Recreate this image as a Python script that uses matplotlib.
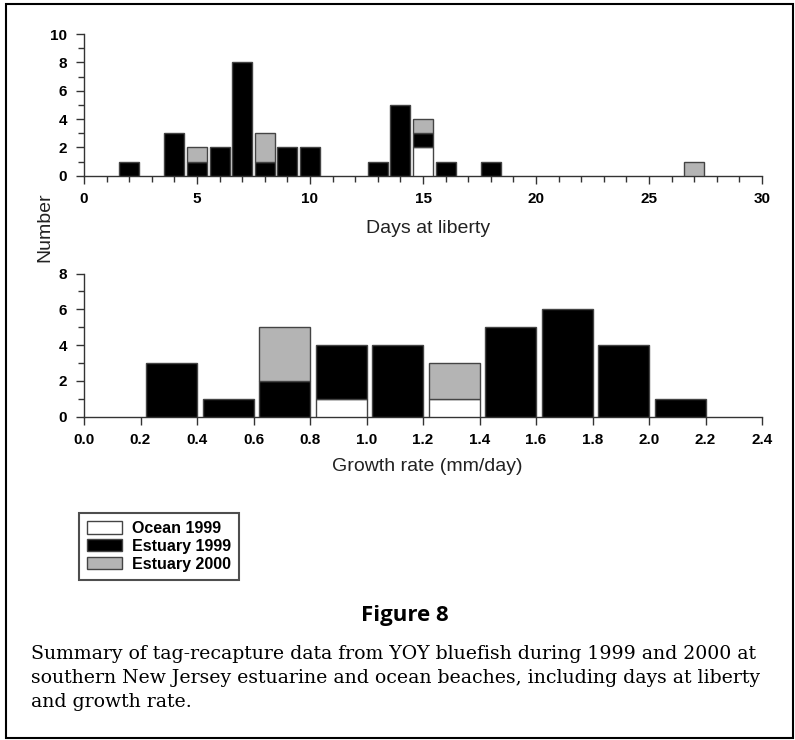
import numpy as np
import matplotlib
matplotlib.use("Agg")
import matplotlib.pyplot as plt
from matplotlib.patches import Patch, Rectangle

# days at liberty histogram (stacked counts)
days = [2, 4, 5, 6, 7, 8, 9, 10, 13, 14, 15, 16, 18, 27]
day_ocean99 = [0, 0, 0, 0, 0, 0, 0, 0, 0, 0, 2, 0, 0, 0]
day_est99 = [1, 3, 1, 2, 8, 1, 2, 2, 1, 5, 1, 1, 1, 0]
day_est00 = [0, 0, 1, 0, 0, 2, 0, 0, 0, 0, 1, 0, 0, 1]

# growth rate histogram, bins 0.2 wide (right edges)
growth_right = [0.4, 0.6, 0.8, 1.0, 1.2, 1.4, 1.6, 1.8, 2.0, 2.2]
gr_ocean99 = [0, 0, 0, 1, 0, 1, 0, 0, 0, 0]
gr_est99 = [3, 1, 2, 3, 4, 0, 5, 6, 4, 1]
gr_est00 = [0, 0, 3, 0, 0, 2, 0, 0, 0, 0]

series_names = ["Ocean 1999", "Estuary 1999", "Estuary 2000"]
colors = ["white", "black", "#b4b4b4"]
EDGE = "#444444"

plt.rcParams['font.family'] = ['Liberation Sans', 'DejaVu Sans']

fig = plt.figure(figsize=(7.95, 7.4), dpi=100)


def stacked(ax, x, stacks, width, align):
    base = np.zeros(len(x))
    x = np.array(x, dtype=float)
    for vals, col in zip(stacks, colors):
        vals = np.array(vals, dtype=float)
        m = vals > 0
        ax.bar(x[m], vals[m], width=width, bottom=base[m], align=align,
               color=col, edgecolor=EDGE, linewidth=1.0, zorder=3)
        base += vals


def style(ax):
    for s in ["top", "right"]:
        ax.spines[s].set_visible(False)
    for s in ["left", "bottom"]:
        ax.spines[s].set_color("#333333")
        ax.spines[s].set_linewidth(1.0)
    ax.tick_params(which="major", direction="out", length=6, width=1,
                   color="#333333", labelsize=11, pad=6)
    ax.tick_params(which="minor", direction="out", length=4, width=1,
                   color="#333333")
    for lab in ax.get_xticklabels() + ax.get_yticklabels():
        lab.set_fontweight("bold")


# top panel
ax1 = fig.add_axes([84 / 795, 1 - 175.7 / 740, 678 / 795, 141.7 / 740])
stacked(ax1, days, [day_ocean99, day_est99, day_est00], 0.88, "center")
ax1.set_xlim(0, 30)
ax1.set_ylim(0, 10)
ax1.set_xticks(np.arange(0, 31, 5))
ax1.set_xticks(np.arange(0, 31, 1), minor=True)
ax1.set_yticks(np.arange(0, 11, 2))
ax1.set_yticks(np.arange(1, 10, 2), minor=True)
style(ax1)
ax1.set_xlabel("Days at liberty", fontsize=14, color="#222222")
ax1.xaxis.set_label_coords(0.507, -0.315)

# bottom panel
ax2 = fig.add_axes([84 / 795, 1 - 416.7 / 740, 678 / 795, 143.1 / 740])
stacked(ax2, growth_right, [gr_ocean99, gr_est99, gr_est00], -0.18, "edge")
ax2.set_xlim(0, 2.4)
ax2.set_ylim(0, 8)
ax2.set_xticks(np.round(np.arange(0, 2.41, 0.2), 1))
ax2.set_xticklabels([f"{v:.1f}" for v in np.arange(0, 2.41, 0.2)])
ax2.set_yticks(np.arange(0, 9, 2))
ax2.set_yticks(np.arange(1, 8, 2), minor=True)
style(ax2)
ax2.set_xlabel("Growth rate (mm/day)", fontsize=14, color="#222222")
ax2.xaxis.set_label_coords(0.507, -0.29)

fig.text(45 / 795, 1 - 227 / 740, "Number", rotation=90, ha="center", va="center",
         fontsize=14, color="#222222")

handles = [Patch(facecolor=c, edgecolor=EDGE, linewidth=1.0) for c in colors]
leg = fig.legend(handles, series_names, loc="upper left",
                 bbox_to_anchor=(79 / 795, 1 - 513 / 740),
                 frameon=True, fancybox=False, edgecolor="#222222",
                 prop={"weight": "bold", "size": 11.5},
                 handlelength=2.2, handleheight=0.8, labelspacing=0.18,
                 borderpad=0.5, handletextpad=0.6, borderaxespad=0)
leg.get_frame().set_linewidth(1.5)

fig.text(405 / 795, 1 - 616 / 740, "Figure 8", ha="center", va="center",
         fontsize=16, fontweight="bold", family=["Open Sans", "DejaVu Sans"])

caption = ("Summary of tag-recapture data from YOY bluefish during 1999 and 2000 at\n"
           "southern New Jersey estuarine and ocean beaches, including days at liberty\n"
           "and growth rate.")
fig.text(31 / 795, 1 - 645 / 740, caption, ha="left", va="top", fontsize=13.6,
         family=["DejaVu Serif"], linespacing=1.42)

# outer frame
fig.patches.append(Rectangle((6 / 795, 2 / 740), 787 / 795, 734 / 740,
                             transform=fig.transFigure, fill=False,
                             edgecolor="black", linewidth=1.5))

fig.savefig("out.png", dpi=100)
